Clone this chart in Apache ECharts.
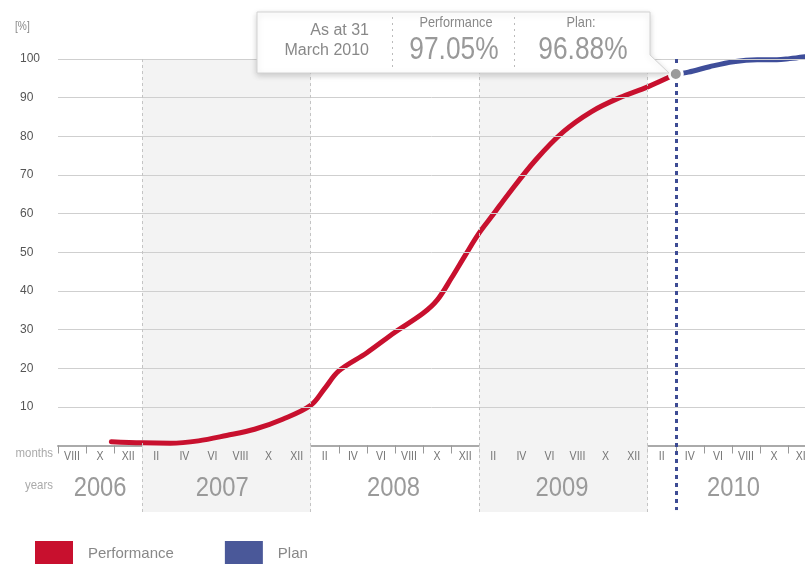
<!DOCTYPE html>
<html><head><meta charset="utf-8">
<script src="https://cdn.jsdelivr.net/npm/echarts@6/dist/echarts.min.js"></script>
<style>html,body{margin:0;padding:0;background:#fff}#c{width:805px;height:564px}</style>
</head><body><div id="c"></div>
<script>
// ---- data (months counted from Jan 2006 = 0) ----
const perfMonths = [9.8,12,14,16,18,20,22,24,25,26,28,30,32,33,34,35,36,37,38,40,42,44,46,48,50];
const perfValues = [1.0,0.7,0.6,1.2,2.6,4.2,6.8,10.4,14.8,19.3,24,29.3,34.2,37.6,43.2,49.2,55,59.8,64.7,73.8,81.2,86.4,90,92.8,96.1];
const planMonths = [50,50.9,52.4,54.1,55.8,57.2,58.1,59.2];
const planValues = [96.1,96.6,98.0,99.3,99.8,99.8,100.1,100.6];
const markerMonth = 50;
const markerValue = 96.1;
const monthLabelPos = [7,9,11,13,15,17,19,21,23,25,27,29,31,33,35,37,39,41,43,45,47,49,51,53,55,57,59];
const monthLabels = ['VIII','X','XII','II','IV','VI','VIII','X','XII','II','IV','VI','VIII','X','XII','II','IV','VI','VIII','X','XII','II','IV','VI','VIII','X','XII'];
const yearLabelPos = [9,17.7,29.9,41.9,54.1];
const yearLabels = ['2006','2007','2008','2009','2010'];
const yearBoundaries = [12,24,36,48];
const shadedYears = [[12,24],[36,48]];
const gridValues = [10,20,30,40,50,60,70,80,90,100];
const asAtLines = ['As at 31','March 2010'];
const perfTitle = 'Performance', perfPct = '97.05%';
const planTitle = 'Plan:', planPct = '96.88%';

const FONT = "'Liberation Sans',Arial,sans-serif";
const RED = '#c8102e', BLUE = '#3f4e9a';
const BAND_BOTTOM = -17.2;

const chart = echarts.init(document.getElementById('c'), null, {renderer:'canvas'});

function textSeries(pos, labels, yVal, style, sx){
  return {
    type:'custom', silent:true, z:6, clip:false,
    data: pos.map(p => [p, yVal]),
    renderItem:(params, api) => {
      const pt = api.coord([api.value(0), api.value(1)]);
      return {type:'text', x:pt[0], y:pt[1], scaleX:sx,
        style:Object.assign({text:labels[params.dataIndex], align:'center', verticalAlign:'middle'}, style)};
    }
  };
}
function label(x, y, text, size, fill, align, sx){
  return {type:'text', z:22, x:x, y:y, scaleX:sx || 1,
    style:{text:text, align:align || 'center', verticalAlign:'middle', fontSize:size, fontFamily:FONT, fill:fill}};
}

const option = {
  animation:false,
  grid:{left:58, right:0, top:59, bottom:41.2, containLabel:false},
  xAxis:{type:'value', min:6, max:59.2, interval:2,
    axisLine:{show:true, onZero:true, lineStyle:{color:'#aaa', width:2}},
    axisTick:{show:true, length:8, lineStyle:{color:'#999', width:1}},
    axisLabel:{show:false}, splitLine:{show:false}},
  yAxis:{type:'value', min:-20, max:100, interval:10,
    axisLine:{show:false}, axisTick:{show:false}, splitLine:{show:false},
    axisLabel:{align:'left', margin:38, fontSize:12, color:'#555', fontFamily:FONT,
      formatter:v => v > 0 ? String(v) : ''}},
  legend:{data:['Performance','Plan'], left:35, top:541, padding:0, icon:'rect', itemWidth:38, itemHeight:25,
    itemGap:51, selectedMode:false,
    textStyle:{fontSize:15, color:'#888', fontFamily:FONT, padding:[0,0,0,10]}},
  series:[
    { // background bands and reference lines
      type:'line', name:'bg', data:[[6,-20]], symbol:'none', lineStyle:{opacity:0}, z:1, silent:true,
      markArea:{silent:true, itemStyle:{color:'#f3f3f3'},
        data: shadedYears.map(r => [{xAxis:r[0], yAxis:100}, {xAxis:r[1], yAxis:BAND_BOTTOM}])},
      markLine:{silent:true, symbol:'none', label:{show:false}, animation:false,
        data: gridValues.map(v => ({yAxis:v, lineStyle:{color:'#cfcfcf', width:1, type:'solid'}}))
          .concat(yearBoundaries.map(b => [
            {coord:[b,100], lineStyle:{color:'#c4c4c4', width:1, type:[3,3]}},
            {coord:[b,BAND_BOTTOM]}]))
          .concat([[
            {coord:[markerMonth,100], lineStyle:{color:'#3d4b94', width:3, type:[4,4]}},
            {coord:[markerMonth,-16.7]}]])
      }
    },
    {
      type:'line', name:'Performance', color:RED, smooth:0.35, symbol:'none', clip:false, z:3,
      data: perfMonths.map((m,i) => [m, perfValues[i]]),
      lineStyle:{color:RED, width:5, cap:'round', join:'round'}
    },
    {
      type:'line', name:'Plan', color:'#4a5899', smooth:0.35, symbol:'none', clip:false, z:3,
      data: planMonths.map((m,i) => [m, planValues[i]]),
      lineStyle:{color:BLUE, width:5, cap:'round', join:'round'}
    },
    {
      type:'scatter', name:'marker', z:8, silent:true, symbolSize:13,
      data:[[markerMonth, markerValue]],
      itemStyle:{color:'#9b9b9b', borderColor:'#fff', borderWidth:3, opacity:1}
    },
    textSeries(monthLabelPos, monthLabels, -3.0, {fontSize:12, fontFamily:FONT, fill:'#777'}, 0.88),
    textSeries(yearLabelPos, yearLabels, -11.0, {fontSize:28, fontFamily:FONT, fill:'#9a9a9a'}, 0.85)
  ],
  graphic:[
    label(15, 27, '[%]', 12, '#888', 'left', 0.85),
    label(53, 453, 'months', 13, '#aaa', 'right', 0.88),
    label(53, 485, 'years', 13, '#aaa', 'right', 0.88),
    {type:'polygon', z:20, shape:{points:[[257,12],[650,12],[650,55],[669,73],[257,73]]},
      style:{fill:'#fff', stroke:'#d2d2d2', lineWidth:1, shadowBlur:6, shadowColor:'rgba(0,0,0,0.18)', shadowOffsetY:2}},
    {type:'line', z:21, shape:{x1:392.5, y1:17, x2:392.5, y2:68}, style:{stroke:'#bbb', lineWidth:1, lineDash:[2,4]}},
    {type:'line', z:21, shape:{x1:514.5, y1:17, x2:514.5, y2:68}, style:{stroke:'#bbb', lineWidth:1, lineDash:[2,4]}},
    label(369, 31, asAtLines[0], 16, '#888', 'right'),
    label(369, 51, asAtLines[1], 16, '#888', 'right'),
    label(456, 23, perfTitle, 15, '#888', 'center', 0.85),
    label(454, 50, perfPct, 31, '#999', 'center', 0.85),
    label(581, 23, planTitle, 15, '#888', 'center', 0.85),
    label(583, 50, planPct, 31, '#999', 'center', 0.85)
  ]
};
chart.setOption(option);
</script></body></html>
